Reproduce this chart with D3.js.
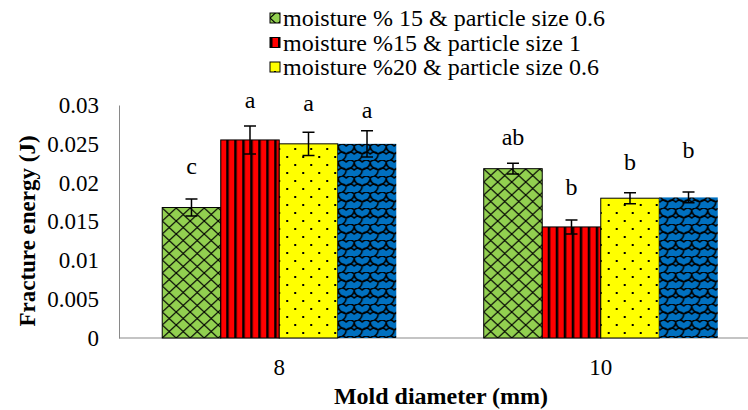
<!DOCTYPE html>
<html>
<head>
<meta charset="utf-8">
<script src="https://cdn.jsdelivr.net/npm/d3@7"></script>
<style>
  body { margin: 0; background: #fff; }
  svg text { font-family: "Liberation Serif", "Times New Roman", serif !important; fill: #000; }
</style>
</head>
<body>
<svg id="chart" width="748" height="410"></svg>
<script>
// données
const categories = ["8", "10"];
const legendNames = [
  "moisture % 15 & particle size 0.6",
  "moisture %15 & particle size 1",
  "moisture %20 & particle size 0.6"
]; // la 4e entrée est coupée dans l'original
const energyM15P06 = [0.0168, 0.0218];
const energyM15P1 = [0.0255, 0.0143];
const energyM20P06 = [0.0250, 0.0180];
const energyFourth = [0.0250, 0.0181];
const errM15P06 = [0.0011, 0.0007];
const errM15P1 = [0.0018, 0.0009];
const errM20P06 = [0.0015, 0.0007];
const errFourth = [0.0017, 0.0007];
const lettersM15P06 = ["c", "ab"];
const lettersM15P1 = ["a", "b"];
const lettersM20P06 = ["a", "b"];
const lettersFourth = ["a", "b"];
// hauteur (J) du centre de chaque lettre
const letterAtM15P06 = [0.0221, 0.0259];
const letterAtM15P1 = [0.0306, 0.0195];
const letterAtM20P06 = [0.0303, 0.0227];
const letterAtFourth = [0.0294, 0.0242];
const yTicks = [0, 0.005, 0.01, 0.015, 0.02, 0.025, 0.03];

const series = [
  { key: "m15p06", values: energyM15P06, err: errM15P06, letters: lettersM15P06, letterAt: letterAtM15P06 },
  { key: "m15p1", values: energyM15P1, err: errM15P1, letters: lettersM15P1, letterAt: letterAtM15P1 },
  { key: "m20p06", values: energyM20P06, err: errM20P06, letters: lettersM20P06, letterAt: letterAtM20P06 },
  { key: "fourth", values: energyFourth, err: errFourth, letters: lettersFourth, letterAt: letterAtFourth }
];

const svg = d3.select("#chart");
const axisColor = "#898989";
const fontSize = 23;
const serif = '"Liberation Serif", "Times New Roman", serif';

// motifs de remplissage (style Excel)
const defs = svg.append("defs");

const pGreen = defs.append("pattern").attr("id", "pat-m15p06")
  .attr("patternUnits", "userSpaceOnUse").attr("width", 14).attr("height", 13);
pGreen.append("rect").attr("width", 14).attr("height", 13).attr("fill", "#92D050");
pGreen.append("path").attr("d", "M0,0L14,13M14,0L0,13")
  .attr("stroke", "#000").attr("stroke-width", 1.2).attr("fill", "none");

const pRed = defs.append("pattern").attr("id", "pat-m15p1")
  .attr("patternUnits", "userSpaceOnUse").attr("width", 8).attr("height", 8);
pRed.append("rect").attr("width", 8).attr("height", 8).attr("fill", "#FF0000");
pRed.append("rect").attr("width", 2.5).attr("height", 8).attr("fill", "#000");

const pYellow = defs.append("pattern").attr("id", "pat-m20p06")
  .attr("patternUnits", "userSpaceOnUse").attr("width", 16).attr("height", 16);
pYellow.append("rect").attr("width", 16).attr("height", 16).attr("fill", "#FFFF00");
pYellow.append("rect").attr("x", 4).attr("y", 4).attr("width", 2).attr("height", 2).attr("fill", "#000");
pYellow.append("rect").attr("x", 12).attr("y", 12).attr("width", 2).attr("height", 2).attr("fill", "#000");

const pBlue = defs.append("pattern").attr("id", "pat-fourth")
  .attr("patternUnits", "userSpaceOnUse").attr("width", 16).attr("height", 16);
pBlue.append("rect").attr("width", 16).attr("height", 16).attr("fill", "#0070C0");
pBlue.append("path")
  .attr("d", "M0,2Q4,-2 8,2Q12,-2 16,2Q16,8 8,10Q0,8 0,2M-8,10Q-4,6 0,10Q4,6 8,10Q8,16 0,18M8,10Q12,6 16,10Q20,6 24,10Q24,16 16,18")
  .attr("stroke", "#000").attr("stroke-width", 1.6).attr("fill", "none");

// échelles
const x0 = d3.scaleBand().domain(categories).range([118.5, 761.5])
  .paddingInner(0.272).paddingOuter(0.136);
const x1 = d3.scaleBand().domain(series.map(s => s.key)).range([0, x0.bandwidth()]);
const y = d3.scaleLinear().domain([0, 0.03]).range([338, 105]);

// axes
const yAxis = svg.append("g").attr("transform", "translate(119,0)")
  .call(d3.axisLeft(y).tickValues(yTicks).tickFormat(d3.format("~g")).tickSize(0).tickPadding(20));
yAxis.attr("font-family", serif).attr("font-size", fontSize);
yAxis.select(".domain").attr("stroke", axisColor);

const xAxis = svg.append("g").attr("transform", "translate(0,338)")
  .call(d3.axisBottom(x0).tickSize(0).tickPadding(21));
xAxis.attr("font-family", serif).attr("font-size", fontSize);
xAxis.select(".domain").attr("stroke", axisColor).attr("d", "M119,0H748");

// barres
const groups = svg.append("g").selectAll("g")
  .data(categories)
  .join("g")
  .attr("transform", c => `translate(${x0(c)},0)`);

groups.selectAll("rect")
  .data((c, i) => series.map(s => ({ key: s.key, v: s.values[i] })))
  .join("rect")
  .attr("x", d => x1(d.key))
  .attr("y", d => y(d.v))
  .attr("width", x1.bandwidth())
  .attr("height", d => y(0) - y(d.v))
  .attr("fill", d => `url(#pat-${d.key})`)
  .attr("stroke", d => d.key === "fourth" ? "none" : "#000")
  .attr("stroke-width", 1);

// barres d'erreur
const cap = 6;
groups.selectAll("path.err")
  .data((c, i) => series.map(s => ({ key: s.key, v: s.values[i], e: s.err[i] })))
  .join("path")
  .attr("class", "err")
  .attr("d", d => {
    const cx = x1(d.key) + x1.bandwidth() / 2;
    const top = y(d.v + d.e), bot = y(d.v - d.e);
    return `M${cx - cap},${top}H${cx + cap}M${cx},${top}V${bot}M${cx - cap},${bot}H${cx + cap}`;
  })
  .attr("stroke", "#000")
  .attr("stroke-width", 1.5)
  .attr("fill", "none");

// lettres de significativité
groups.selectAll("text.letter")
  .data((c, i) => series.map(s => ({ key: s.key, t: s.letters[i], at: s.letterAt[i] })))
  .join("text")
  .attr("class", "letter")
  .attr("x", d => x1(d.key) + x1.bandwidth() / 2)
  .attr("y", d => y(d.at))
  .attr("text-anchor", "middle")
  .attr("dominant-baseline", "central")
  .style("font-size", "24px")
  .text(d => d.t);

// titres des axes
svg.append("text")
  .attr("x", 441).attr("y", 396)
  .attr("text-anchor", "middle").attr("dominant-baseline", "central")
  .style("font-size", "24px").style("font-weight", "bold")
  .text("Mold diameter (mm)");

svg.append("text")
  .attr("transform", "translate(27,231) rotate(-90)")
  .attr("text-anchor", "middle").attr("dominant-baseline", "central")
  .style("font-size", "23px").style("font-weight", "bold")
  .text("Fracture energy (J)");

// légende
const legend = svg.append("g").selectAll("g")
  .data(legendNames)
  .join("g")
  .attr("transform", (d, i) => `translate(270,${18 + i * 24.5})`);

legend.append("rect")
  .attr("x", 0).attr("y", -5)
  .attr("width", 10).attr("height", 10)
  .attr("fill", (d, i) => `url(#pat-${series[i].key})`)
  .attr("stroke", "#000").attr("stroke-width", 1);

legend.append("text")
  .attr("x", 13).attr("y", 0)
  .attr("dominant-baseline", "central")
  .style("font-size", "24px")
  .text(d => d);
</script>
</body>
</html>
